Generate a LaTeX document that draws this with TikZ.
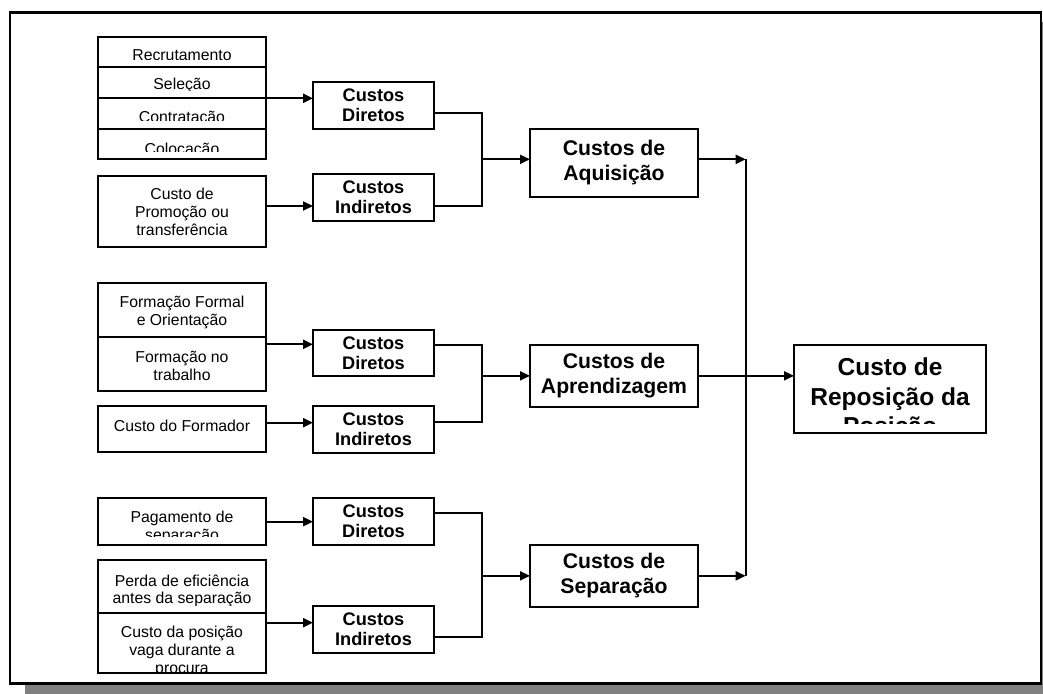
\documentclass[tikz,border=0pt]{standalone}
\usepackage{fontspec}
\setmainfont{Liberation Sans}
\usetikzlibrary{arrows.meta,calc}
\tikzset{
  boxline/.style={draw, line width=2pt, inner sep=0pt, outer sep=0pt, align=center},
  cell/.style={boxline, minimum width=168pt, font=\fontsize{15.8}{18}\selectfont},
  mid/.style={boxline, minimum width=121pt, minimum height=46.5pt, font=\fontsize{18.2}{20}\selectfont\bfseries},
  big/.style={boxline, minimum width=168pt, font=\fontsize{21.2}{25}\selectfont\bfseries},
  mainbox/.style={boxline, minimum width=192pt, minimum height=87.7pt},
  txt/.style={inner sep=0pt, font=\fontsize{15.8}{18}\selectfont},
  maintxt/.style={inner sep=0pt, font=\fontsize{24.5}{29.5}\selectfont\bfseries},
  conn/.style={line width=1.7pt},
  arr/.style={line width=2.1pt, -{Triangle[length=10pt,width=9pt]}},
}
\begin{document}
\begin{tikzpicture}[x=1pt,y=-1pt]
\useasboundingbox (0,0) rectangle (1043,693);
% shadow and frame
\fill[black!50] (25,22) rectangle (1060,700);
\draw[line width=2.2pt, fill=white] (10,12.5) rectangle (1041,683.5);

% ---------- group 1 ----------
\node[cell, minimum height=30pt] (recr) at (182,52) {};
\node[cell, minimum height=31.3pt] (sele) at (182,82.65) {};
\node[cell, minimum height=30.7pt] (contr) at (182,113.65) {};
\node[cell, minimum height=30.3pt] (coloc) at (182,144.15) {};
\begin{scope}\clip (98,37) rectangle (266,59.3);
\node[txt, anchor=base] (trecr) at (182,60.7) {Recrutamento};\end{scope}
\begin{scope}\clip (98,67) rectangle (266,90.2);
\node[txt, anchor=base] (tsele) at (182,89.5) {Seleção};\end{scope}
\begin{scope}\clip (98,98.3) rectangle (266,120.7);
\node[txt, anchor=base] (tcontr) at (182,122.7) {Contratação};\end{scope}
\begin{scope}\clip (98,129) rectangle (266,151.7);
\node[txt, anchor=base] (tcoloc) at (182,154) {Colocação};\end{scope}
\node[cell, minimum height=71pt] (promo) at (182,211.5) {Custo de\\Promoção ou\\transferência};

\node[mid] (d1) at (373.5,105.65) {Custos\\Diretos};
\node[mid] (i1) at (373.5,197.65) {Custos\\Indiretos};
\node[big, minimum height=67.7pt] (aq) at (614,162.85) {Custos de\\Aquisição};

% ---------- group 2 ----------
\node[cell, minimum height=54.6pt] (ff) at (182,310) {};
\node[txt, align=center] (tff) at (182,312) {Formação Formal\\e Orientação};
\node[cell, minimum height=53.7pt] (fn) at (182,364.15) {};
\node[txt, align=center] (tfn) at (182,366) {Formação no\\trabalho};
\node[cell, minimum height=46pt] (cf) at (182,429) {};
\node[txt] (tcf) at (182,426) {Custo do Formador};

\node[mid] (d2) at (373.5,353) {Custos\\Diretos};
\node[mid] (i2) at (373.5,429.35) {Custos\\Indiretos};
\node[big, minimum height=61.7pt] (ap) at (614,375.85) {Custos de\\Aprendizagem};

% ---------- group 3 ----------
\node[cell, minimum height=46.7pt] (pag) at (182,521.65) {};
\begin{scope}\clip (98,498.3) rectangle (266,536);
\node[txt, anchor=base] (tpag1) at (182,522.3) {Pagamento de};
\node[txt, anchor=base] (tpag2) at (182,540.3) {separação};\end{scope}
\node[cell, minimum height=53.3pt] (perda) at (182,586.65) {};
\begin{scope}\clip (98,560) rectangle (266,605);
\node[txt, anchor=base] (tper1) at (182,586.3) {Perda de eficiência};
\node[txt, anchor=base] (tper2) at (182,603.8) {antes da separação};\end{scope}
\node[cell, minimum height=60pt] (cp) at (182,643.3) {};
\begin{scope}\clip (98,613.3) rectangle (266,671.7);
\node[txt, anchor=base] (tcp1) at (182,637.3) {Custo da posição};
\node[txt, anchor=base] (tcp2) at (182,655.3) {vaga durante a};
\node[txt, anchor=base] (tcp3) at (182,673.3) {procura};\end{scope}

\node[mid] (d3) at (373.5,521.65) {Custos\\Diretos};
\node[mid] (i3) at (373.5,629.5) {Custos\\Indiretos};
\node[big, minimum height=61.7pt] (sep) at (614,575.85) {Custos de\\Separação};

% ---------- main box ----------
\node[mainbox] (main) at (890,388.85) {};
\begin{scope}\clip (794,345) rectangle (986,423.3);
\node[maintxt, anchor=base] (tm1) at (890,375.8) {Custo de};
\node[maintxt, anchor=base] (tm2) at (890,405.3) {Reposição da};
\node[maintxt, anchor=base] (tm3) at (890,434.8) {Posição};\end{scope}

% ---------- connection points ----------
\coordinate (a1) at ($(promo.east)+(0,-5.5)$);
\coordinate (a2) at ($(fn.east)+(0,-19.85)$);
\coordinate (a3) at ($(cf.east)+(0,-6.3)$);
\coordinate (a4) at ($(cp.east)+(0,-20.6)$);
\coordinate (o1d) at ($(d1.east)+(0,7.65)$);
\coordinate (o1i) at ($(i1.east)+(0,8.35)$);
\coordinate (o2d) at ($(d2.east)+(0,-8)$);
\coordinate (o2i) at ($(i2.east)+(0,-7.65)$);
\coordinate (o3d) at ($(d3.east)+(0,-8.35)$);
\coordinate (o3i) at ($(i3.east)+(0,7.2)$);
\coordinate (j1) at ($(aq.west)+(-48,-3.5)$);
\coordinate (j2) at ($(ap.west)+(-48,0)$);
\coordinate (j3) at ($(sep.west)+(-48,0)$);

% ---------- connectors group 1 ----------
\draw[arr] (sele.south east) -- (sele.south east -| d1.west);
\draw[arr] (a1) -- (a1 -| i1.west);
\draw[conn] (o1d) -| (j1) |- (o1i);
\draw[arr] (j1) -- (j1 -| aq.west);

% ---------- connectors group 2 ----------
\draw[arr] (a2) -- (a2 -| d2.west);
\draw[arr] (a3) -- (a3 -| i2.west);
\draw[conn] (o2d) -| (j2) |- (o2i);
\draw[arr] (j2) -- (ap.west);

% ---------- connectors group 3 ----------
\draw[arr] (pag.east) -- (pag.east -| d3.west);
\draw[arr] (a4) -- (a4 -| i3.west);
\draw[conn] (o3d) -| (j3) |- (o3i);
\draw[arr] (j3) -- (sep.west);

% ---------- right side ----------
\coordinate (vtop) at ($(aq.east)+(47.7,-3.5)$);
\coordinate (vbot) at ($(sep.east)+(47.7,0)$);
\draw[conn] (vtop) -- (vbot);
\draw[arr] (aq.east |- vtop) -- (vtop);
\draw[arr] (sep.east) -- (vbot);
\draw[arr] (ap.east) -- (ap.east -| main.west);
\end{tikzpicture}
\end{document}
